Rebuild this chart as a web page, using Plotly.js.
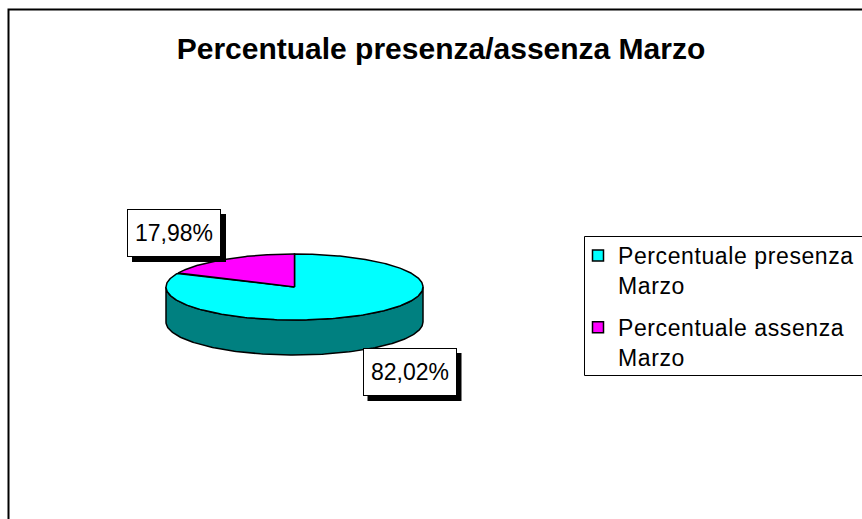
<!DOCTYPE html>
<html>
<head>
<meta charset="utf-8">
<script src="https://cdn.plot.ly/plotly-3.0.1.min.js"></script>
<style>
  html, body { margin: 0; padding: 0; background: #fff; }
  #chart { width: 862px; height: 519px; }
  .legendtext { letter-spacing: 0.6px; }
</style>
</head>
<body>
<div id="chart"></div>
<script>
// ---- data ----
const chartTitle = "Percentuale presenza/assenza Marzo";
const categories = ["Percentuale presenza<br>Marzo", "Percentuale assenza<br>Marzo"];
const values = [82.02, 17.98];
const topColors = ["#00FFFF", "#FF00FF"];
const sideColors = ["#008080", "#800080"];

// ---- geometry (pixel space of the page) ----
const W = 862, H = 519;
const cx = 294.5, cy = 287, rx = 128.5, ry = 33, depth = 35;
const FONT = "Liberation Sans, Arial, sans-serif";

function pt(deg) {
  const t = deg * Math.PI / 180;
  return [cx + rx * Math.cos(t), cy - ry * Math.sin(t)];
}
function arc(a0, a1, n) {
  const xs = [], ys = [];
  for (let i = 0; i <= n; i++) {
    const p = pt(a0 + (a1 - a0) * i / n);
    xs.push(p[0]); ys.push(p[1]);
  }
  return [xs, ys];
}

const total = values.reduce((a, b) => a + b, 0);
// slice angular ranges: first slice clockwise from 12 o'clock, second continues
const ranges = [];
let start = 90;
values.forEach(v => {
  const sweep = v / total * 360;
  ranges.push([start - sweep, start]);
  start -= sweep;
});

const traces = [];
// side walls (front half only)
ranges.forEach((r, i) => {
  [[-180, 0], [180, 360], [-540, -360]].forEach(h => {
    const a0 = Math.max(r[0], h[0]), a1 = Math.min(r[1], h[1]);
    if (a1 > a0) {
      const [xs, ys] = arc(a0, a1, 200);
      const X = xs.concat(xs.slice().reverse());
      const Y = ys.concat(ys.slice().reverse().map(y => y + depth));
      X.push(X[0]); Y.push(Y[0]);
      traces.push({
        type: "scatter", mode: "lines", x: X, y: Y, fill: "toself",
        fillcolor: sideColors[i], line: { color: "#000", width: 1.5 },
        showlegend: false, hoverinfo: "skip"
      });
    }
  });
});
// top faces
ranges.forEach((r, i) => {
  const [xs, ys] = arc(r[0], r[1], 300);
  const X = [cx].concat(xs, [cx]);
  const Y = [cy].concat(ys, [cy]);
  traces.push({
    type: "scatter", mode: "lines", x: X, y: Y, fill: "toself",
    fillcolor: topColors[i], line: { color: "#000", width: 1.5 },
    showlegend: false, name: categories[i], hoverinfo: "name"
  });
});
// legend entries
categories.forEach((c, i) => {
  traces.push({
    type: "scatter", mode: "markers", x: [null], y: [null], name: c,
    legendgroup: "g" + i,
    marker: { symbol: "square", size: 11, color: topColors[i], line: { color: "#000", width: 1.5 } },
    showlegend: true
  });
});

function fmt(v) { return v.toFixed(2).replace(".", ",") + "%"; }
const labelPos = [[409.5, 372], [174, 233]];
const boxW = 94, boxH = 48, shadow = 5;
const annotations = [];
const shapes = [];
values.forEach((v, i) => {
  const [lx, ly] = labelPos[i];
  shapes.push({
    type: "rect", xref: "x", yref: "y",
    x0: lx - boxW / 2 + shadow, x1: lx + boxW / 2 + shadow,
    y0: ly - boxH / 2 + shadow, y1: ly + boxH / 2 + shadow,
    line: { width: 0 }, fillcolor: "#000", layer: "above"
  });
  annotations.push({
    xref: "x", yref: "y", x: lx, y: ly, text: fmt(v), showarrow: false,
    font: { family: FONT, size: 23, color: "#000" },
    bgcolor: "#fff", bordercolor: "#000", borderwidth: 1, borderpad: 1,
    width: boxW - 4, height: boxH - 4
  });
});
// chart area border
shapes.push({
  type: "rect", xref: "x", yref: "y", x0: 8.5, x1: W + 20, y0: 9.5, y1: H + 20,
  line: { color: "#000", width: 2 }, fillcolor: "rgba(0,0,0,0)", layer: "above"
});
// legend border
shapes.push({
  type: "rect", xref: "x", yref: "y", x0: 584.5, x1: W + 20, y0: 236.5, y1: 375.5,
  line: { color: "#000", width: 1 }, fillcolor: "rgba(0,0,0,0)", layer: "above"
});

const layout = {
  width: W, height: H,
  margin: { l: 0, r: 0, t: 0, b: 0, autoexpand: false },
  paper_bgcolor: "#fff", plot_bgcolor: "#fff",
  font: { family: FONT, color: "#000" },
  title: {
    text: "<b>" + chartTitle + "</b>",
    font: { family: FONT, size: 30, color: "#000" },
    x: 441 / W, xanchor: "center", xref: "container",
    y: 1 - 48 / H, yanchor: "middle", yref: "container"
  },
  xaxis: { range: [0, W], visible: false, fixedrange: true },
  yaxis: { range: [H, 0], visible: false, fixedrange: true },
  showlegend: true,
  legend: {
    x: 578 / W, y: 1 - 234 / H, xanchor: "left", yanchor: "top",
    xref: "paper", yref: "paper",
    bgcolor: "rgba(0,0,0,0)", borderwidth: 0,
    font: { family: FONT, size: 23, color: "#000" },
    itemwidth: 30, valign: "top", tracegroupgap: 9
  },
  shapes: shapes,
  annotations: annotations
};

Plotly.newPlot("chart", traces, layout, { displayModeBar: false, staticPlot: true });
</script>
</body>
</html>
